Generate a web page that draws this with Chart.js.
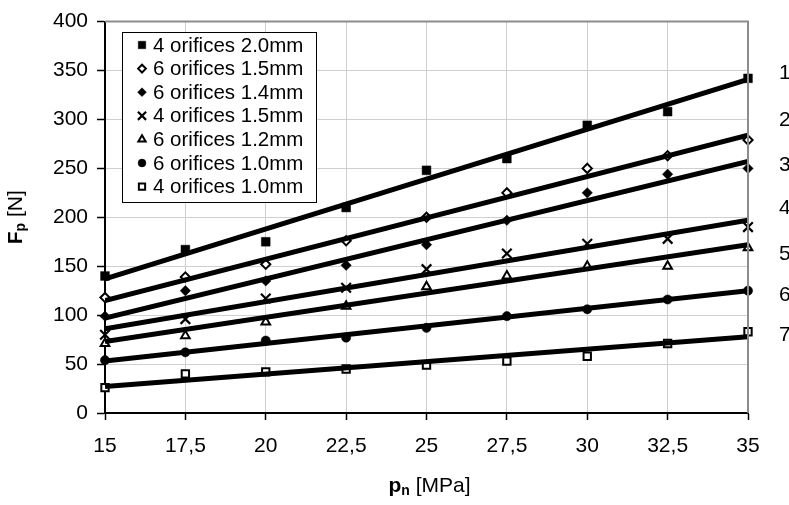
<!DOCTYPE html>
<html>
<head>
<meta charset="utf-8">
<script src="https://cdn.jsdelivr.net/npm/chart.js"></script>
<style>
html,body{margin:0;padding:0;background:#fff;}
#wrap{width:789px;height:505px;position:relative;overflow:hidden;}
</style>
</head>
<body>
<div id="wrap"><canvas id="c" width="789" height="505"></canvas></div>
<script>
// ---- data ----
const pressures = [15, 17.5, 20, 22.5, 25, 27.5, 30, 32.5, 35];
const xTickLabels = ['15', '17,5', '20', '22,5', '25', '27,5', '30', '32,5', '35'];
const yTickLabels = ['0', '50', '100', '150', '200', '250', '300', '350', '400'];
const seriesNames = ['4 orifices 2.0mm', '6 orifices 1.5mm', '6 orifices 1.4mm', '4 orifices 1.5mm',
                     '6 orifices 1.2mm', '6 orifices 1.0mm', '4 orifices 1.0mm'];
const seriesNumbers = ['1', '2', '3', '4', '5', '6', '7'];

const s1 = [140, 167, 175, 210, 248, 260, 294, 308, 342];
const s2 = [118, 139, 152, 176, 200, 225, 250, 263, 279];
const s3 = [99, 125, 135, 151, 172, 197, 225, 244, 250];
const s4 = [80, 96, 117, 128, 147, 163, 173, 178, 190];
const s5 = [71, 79, 93, 109, 129, 140, 150, 150, 169];
const s6 = [54, 62, 74, 77, 87, 99, 106, 116, 125];
const s7 = [26, 40, 42, 45, 49, 53, 58, 71, 83];

const trendX = [15, 35];
const t1 = [137, 341];
const t2 = [115, 284];
const t3 = [97, 257];
const t4 = [86, 197];
const t5 = [73, 172];
const t6 = [53, 125];
const t7 = [27, 78];

const seriesValues = [s1, s2, s3, s4, s5, s6, s7];
const trendValues = [t1, t2, t3, t4, t5, t6, t7];

// ---- styles ----
const FONT = '"Liberation Sans", Arial, sans-serif';
const markerStyles = [
  {pointStyle: 'rect',      radius: 6.2, fill: '#000', stroke: '#000', bw: 0.5},
  {pointStyle: 'rectRot',   radius: 4.6, fill: '#fff', stroke: '#000', bw: 2},
  {pointStyle: 'rectRot',   radius: 5.2, fill: '#000', stroke: '#000', bw: 0.5},
  {pointStyle: 'crossRot',  radius: 6.8, fill: '#000', stroke: '#000', bw: 2.2},
  {pointStyle: 'triangle',  radius: 5.0, fill: '#fff', stroke: '#000', bw: 2},
  {pointStyle: 'circle',    radius: 4.6, fill: '#000', stroke: '#000', bw: 0.5},
  {pointStyle: 'rect',      radius: 5.2, fill: '#fff', stroke: '#000', bw: 2}
];

const datasets = [];
trendValues.forEach((t, i) => {
  datasets.push({
    type: 'line',
    label: 'trend ' + seriesNumbers[i],
    data: trendX.map((x, j) => ({x: x, y: t[j]})),
    borderColor: '#000',
    borderWidth: 5,
    pointRadius: 0,
    fill: false,
    order: 0
  });
});
seriesValues.forEach((vals, i) => {
  const m = markerStyles[i];
  datasets.push({
    type: 'scatter',
    label: seriesNames[i],
    data: pressures.map((x, j) => ({x: x, y: vals[j]})),
    showLine: false,
    pointStyle: m.pointStyle,
    pointRadius: m.radius,
    pointBackgroundColor: m.fill,
    pointBorderColor: m.stroke,
    pointBorderWidth: m.bw,
    clip: false,
    order: 1
  });
});

function drawMarker(ctx, m, x, y, scale) {
  ctx.save();
  ctx.fillStyle = m.fill;
  ctx.strokeStyle = m.stroke;
  ctx.lineWidth = m.bw;
  const opts = {pointStyle: m.pointStyle, radius: m.radius * scale, rotation: 0, borderWidth: m.bw};
  Chart.helpers.drawPoint(ctx, opts, x, y);
  ctx.restore();
}

function drawSubTitle(ctx, parts, cx, cy, rotate) {
  ctx.save();
  ctx.translate(cx, cy);
  if (rotate) ctx.rotate(-Math.PI / 2);
  ctx.textBaseline = 'middle';
  ctx.fillStyle = '#000';
  let total = 0;
  parts.forEach(p => { ctx.font = p.font; total += ctx.measureText(p.text).width; });
  let x = -total / 2;
  parts.forEach(p => {
    ctx.font = p.font;
    ctx.textAlign = 'left';
    ctx.fillText(p.text, x, p.dy || 0);
    x += ctx.measureText(p.text).width;
  });
  ctx.restore();
}

const decor = {
  id: 'decor',
  afterDraw(chart) {
    const ctx = chart.ctx;
    const a = chart.chartArea;
    // plot border top / right
    ctx.save();
    ctx.strokeStyle = '#8c8c8c';
    ctx.lineWidth = 2;
    ctx.beginPath();
    ctx.moveTo(a.left, a.top);
    ctx.lineTo(a.right, a.top);
    ctx.lineTo(a.right, a.bottom);
    ctx.stroke();
    ctx.restore();

    // legend box
    const lx = 122, ly = 32, lw = 194, lh = 170;
    ctx.save();
    ctx.fillStyle = '#fff';
    ctx.fillRect(lx, ly, lw, lh);
    ctx.strokeStyle = '#000';
    ctx.lineWidth = 1;
    ctx.strokeRect(lx + 0.5, ly + 0.5, lw, lh);
    ctx.font = '20.5px ' + FONT;
    ctx.fillStyle = '#000';
    ctx.textBaseline = 'middle';
    ctx.textAlign = 'left';
    seriesNames.forEach((name, i) => {
      const y = ly + 13 + i * 23.6;
      drawMarker(ctx, markerStyles[i], lx + 20, y, 0.85);
      ctx.fillText(name, lx + 31, y + 1);
    });
    ctx.restore();

    // series numbers at right edge
    ctx.save();
    ctx.font = '21px ' + FONT;
    ctx.fillStyle = '#000';
    ctx.textBaseline = 'middle';
    ctx.textAlign = 'left';
    const ny = [73, 120, 165, 208, 254, 295, 335];
    seriesNumbers.forEach((n, i) => ctx.fillText(n, 779, ny[i]));
    ctx.restore();

    // axis titles
    drawSubTitle(ctx, [
      {text: 'F', font: 'bold 21px ' + FONT},
      {text: 'p', font: 'bold 14px ' + FONT, dy: 5},
      {text: ' [N]', font: '21px ' + FONT}
    ], 16, (a.top + a.bottom) / 2, true);
    drawSubTitle(ctx, [
      {text: 'p', font: 'bold 21px ' + FONT},
      {text: 'n', font: 'bold 14px ' + FONT, dy: 5},
      {text: ' [MPa]', font: '21px ' + FONT}
    ], (a.left + a.right) / 2 + 3, 486, false);
  }
};

new Chart(document.getElementById('c'), {
  data: {datasets: datasets},
  options: {
    responsive: false,
    animation: false,
    devicePixelRatio: 1,
    layout: {padding: {top: 17, right: 41, left: 0, bottom: 0}},
    plugins: {legend: {display: false}, tooltip: {enabled: false}},
    scales: {
      x: {
        type: 'linear', min: 15, max: 35,
        ticks: {
          stepSize: 2.5,
          callback: (v, i) => xTickLabels[i],
          font: {family: FONT, size: 21},
          color: '#000',
          padding: 14,
          maxRotation: 0,
          autoSkip: false
        },
        grid: {color: '#cfcfcf', lineWidth: 1, tickLength: 7, tickColor: '#000', tickWidth: 1.5},
        border: {color: '#000', width: 2},
        afterFit: s => { s.height = 92; }
      },
      y: {
        type: 'linear', min: 0, max: 400,
        ticks: {
          stepSize: 50,
          callback: (v, i) => yTickLabels[i],
          font: {family: FONT, size: 21},
          color: '#000',
          padding: 9
        },
        grid: {color: '#cfcfcf', lineWidth: 1, tickLength: 8, tickColor: '#000', tickWidth: 1.5},
        border: {color: '#000', width: 2},
        afterFit: s => { s.width = 105; }
      }
    }
  },
  plugins: [decor]
});
</script>
</body>
</html>
